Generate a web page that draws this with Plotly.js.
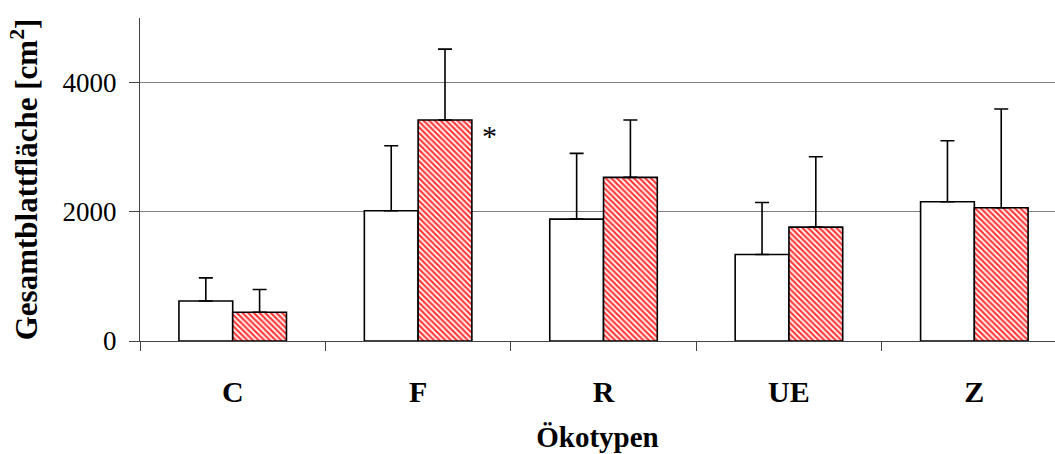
<!DOCTYPE html>
<html>
<head>
<meta charset="utf-8">
<script src="https://cdn.plot.ly/plotly-3.0.1.min.js"></script>
<style>
  html, body { margin: 0; padding: 0; background: #ffffff; overflow: hidden; }
  #chart { width: 1055px; height: 454px; }
</style>
</head>
<body>
<div id="chart"></div>
<script>
// Ökotypen (categories)
const categories = ['C', 'F', 'R', 'UE', 'Z'];

// Mean total leaf area [cm²] per ecotype, two treatments, with upper error
const seriesWhite = [620, 2016, 1887, 1340, 2155];
const seriesWhiteErr = [357, 1007, 1018, 804, 946];

const seriesRed = [445, 3422, 2533, 1763, 2062];
const seriesRedErr = [352, 1096, 889, 1090, 1530];

// y-axis ticks
const yTicks = [0, 2000, 4000];
const yTickText = ['0', '2000', '4000'];

// significance mark on the F group
const starCategory = 'F';

const serif = 'Liberation Serif, Times New Roman, Times, serif';
const zeros = categories.map(() => 0);

const errStyle = (arr) => ({
  type: 'data', array: arr, arrayminus: zeros, symmetric: false, visible: true,
  color: '#000000', thickness: 1.6, width: 7
});

const traces = [
  { type: 'bar', x: categories, y: seriesWhite,
    marker: { color: '#ffffff', line: { color: '#000000', width: 1.6 } },
    error_y: errStyle(seriesWhiteErr) },
  { type: 'bar', x: categories, y: seriesRed,
    marker: { color: '#ffffff', line: { color: '#000000', width: 1.6 },
      pattern: { shape: '\\', fgcolor: '#ff3b3b', bgcolor: '#ffffff', size: 4, solidity: 0.55 } },
    error_y: errStyle(seriesRedErr) }
];

const starIdx = categories.indexOf(starCategory);

const layout = {
  width: 1055, height: 454,
  margin: { l: 140, r: 0, t: 18, b: 113 },
  paper_bgcolor: '#ffffff', plot_bgcolor: '#ffffff',
  showlegend: false, barmode: 'group', bargap: 0.42, bargroupgap: 0,
  font: { family: serif, color: '#000000' },
  xaxis: {
    type: 'category', range: [-0.5, 4.435],
    showline: true, linecolor: '#444444',
    ticks: 'outside', tickson: 'boundaries', ticklen: 9, tickcolor: '#444444',
    showgrid: false, zeroline: false, ticklabelstandoff: 24,
    tickfont: { family: serif, size: 30, weight: 700, color: '#000000' },
    title: { text: 'Ökotypen', font: { family: serif, size: 29, weight: 700, color: '#000000' }, standoff: 19 }
  },
  yaxis: {
    range: [0, 5000], tickvals: yTicks, ticktext: yTickText,
    showline: true, linecolor: '#444444',
    ticks: 'outside', ticklen: 10, tickcolor: '#444444',
    gridcolor: '#808080', zeroline: false, ticklabelstandoff: 7,
    tickfont: { family: serif, size: 27, color: '#000000' },
    title: { text: 'Gesamtblattfläche [cm<sup>2</sup>]', font: { family: serif, size: 31, weight: 700, color: '#000000' }, standoff: 15 }
  },
  annotations: [{
    x: starCategory, xref: 'x', y: seriesRed[starIdx], yref: 'y',
    xshift: 71, yshift: 3, yanchor: 'top', xanchor: 'center',
    text: '*', showarrow: false,
    font: { family: serif, size: 30, color: '#000000' }
  }]
};

const config = { displayModeBar: false, staticPlot: true };

// draw right away, then again once the serif faces have loaded
Plotly.newPlot('chart', traces, layout, config);
const faces = ['27px "Liberation Serif"', 'bold 30px "Liberation Serif"'];
Promise.all(faces.map(f => document.fonts.load(f)))
  .catch(() => null)
  .then(() => document.fonts.ready)
  .then(() => Plotly.react('chart', traces, layout, config))
  .then(() => {
    // touch the label boxes so the text is laid out with the loaded faces
    document.querySelectorAll('#chart text').forEach(t => t.getBoundingClientRect());
  });
</script>
</body>
</html>
